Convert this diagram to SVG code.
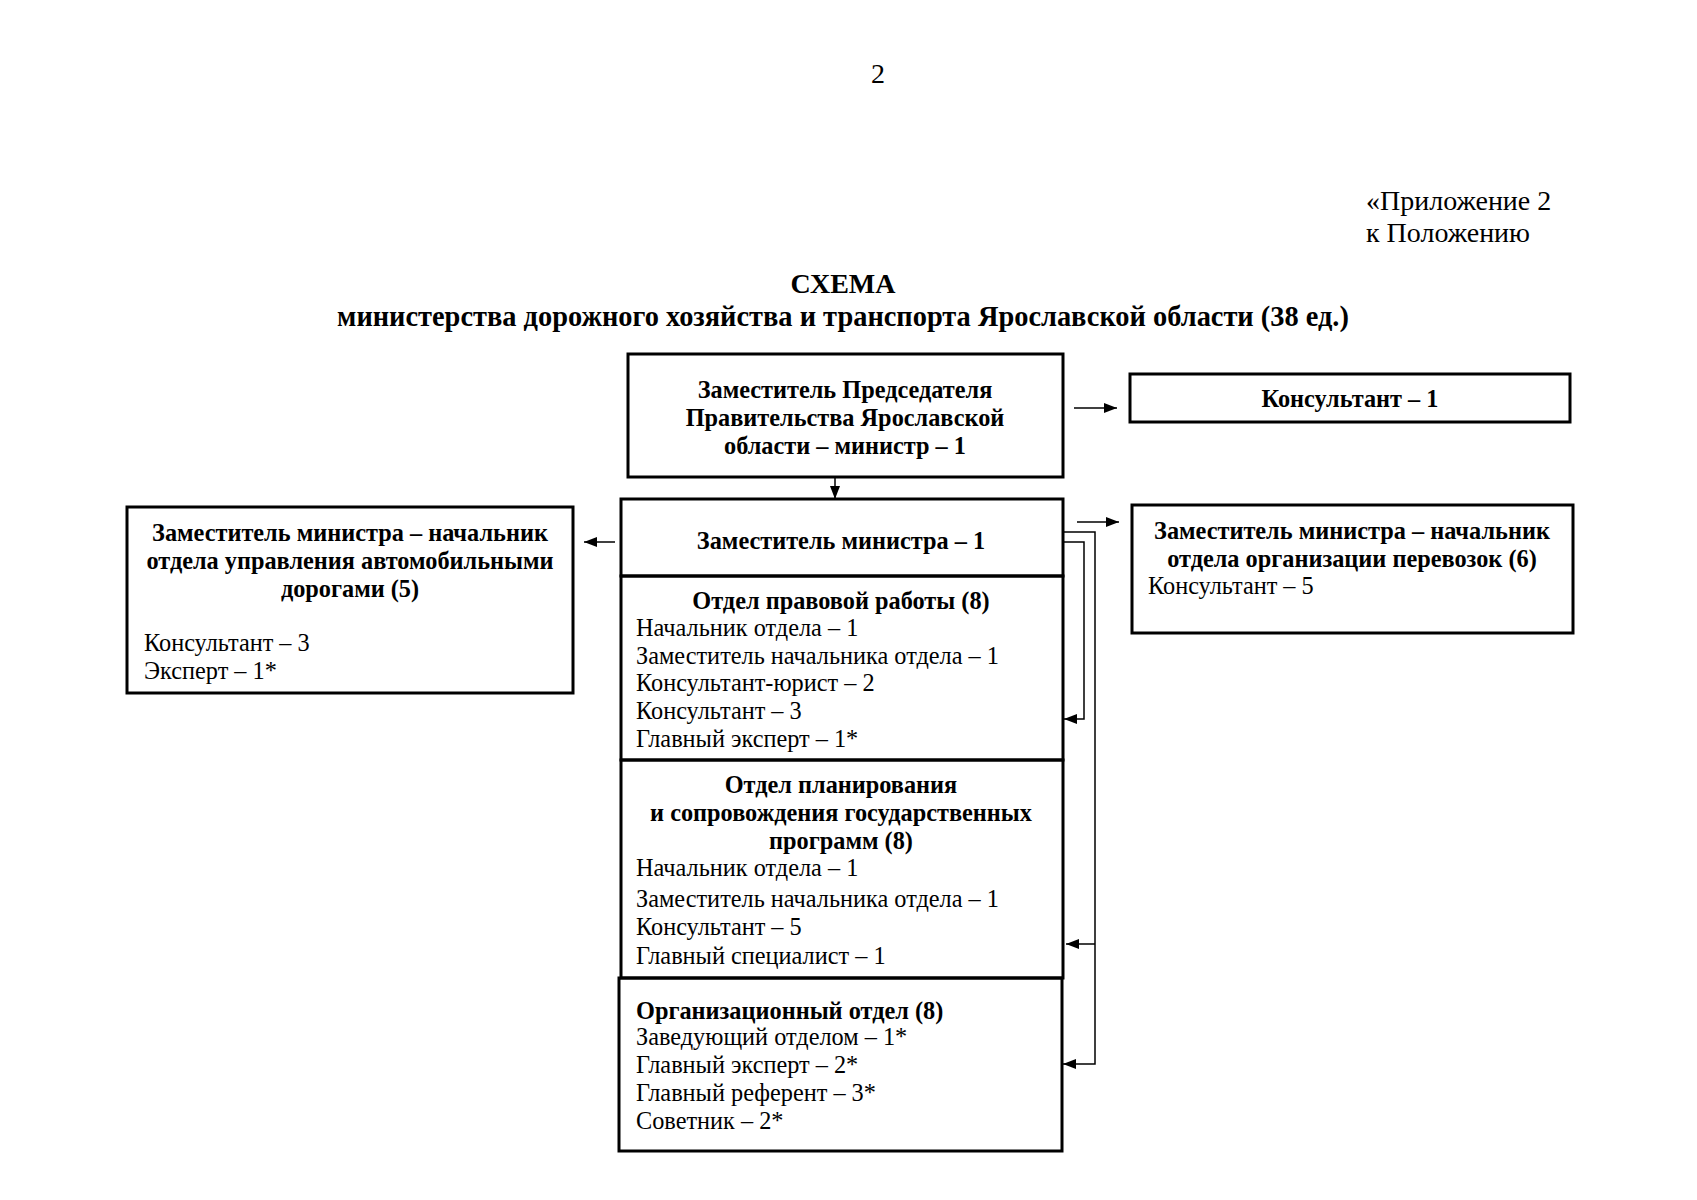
<svg xmlns="http://www.w3.org/2000/svg" width="1697" height="1200" viewBox="0 0 1697 1200">
<style>
text{font-family:"Liberation Serif","Times New Roman",serif;font-size:24.3px;fill:#000}
.b{font-weight:bold}
.c{text-anchor:middle}
.h{font-size:28px}
.box{fill:none;stroke:#000;stroke-width:3}
.con{fill:none;stroke:#000;stroke-width:1.5}
</style>
<defs>
<marker id="ah" markerUnits="userSpaceOnUse" markerWidth="14" markerHeight="12" refX="13" refY="5" orient="auto">
<path d="M0,0 L13,5 L0,10 Z" fill="#000"/>
</marker>
</defs>
<rect width="1697" height="1200" fill="#fff"/>
<g id="header">
<text x="878" y="83" class="c h">2</text>
<text x="1366" y="210" class="h">«Приложение 2</text>
<text x="1366" y="242" class="h">к Положению</text>
<text x="843" y="293" class="c b h">СХЕМА</text>
<text x="843" y="326" class="c b" style="font-size:28.4px">министерства дорожного хозяйства и транспорта Ярославской области (38 ед.)</text>
</g>
<g id="connectors">
<line class="con" x1="835" y1="477" x2="835" y2="499" marker-end="url(#ah)"/>
<line class="con" x1="1074" y1="408" x2="1117" y2="408" marker-end="url(#ah)"/>
<line class="con" x1="1077" y1="522" x2="1119" y2="522" marker-end="url(#ah)"/>
<line class="con" x1="615" y1="542" x2="584" y2="542" marker-end="url(#ah)"/>
<polyline class="con" points="1064,542 1084,542 1084,719 1064,719" marker-end="url(#ah)"/>
<polyline class="con" points="1064,532 1095,532 1095,1064 1063,1064" marker-end="url(#ah)"/>
<line class="con" x1="1095" y1="944" x2="1066" y2="944" marker-end="url(#ah)"/>
</g>
<g id="minister">
<rect class="box" x="628" y="354" width="435" height="123"/>
<text x="845" y="398" class="c b">Заместитель Председателя</text>
<text x="845" y="426" class="c b">Правительства Ярославской</text>
<text x="845" y="454" class="c b">области – министр – 1</text>
</g>
<g id="consultant1">
<rect class="box" x="1130" y="374" width="440" height="48"/>
<text x="1350" y="407" class="c b">Консультант – 1</text>
</g>
<g id="deputy">
<rect class="box" x="621" y="499" width="442" height="77"/>
<text x="841" y="549" class="c b">Заместитель министра – 1</text>
</g>
<g id="roads">
<rect class="box" x="127" y="507" width="446" height="186"/>
<text x="350" y="541" class="c b">Заместитель министра – начальник</text>
<text x="350" y="569" class="c b">отдела управления автомобильными</text>
<text x="350" y="597" class="c b">дорогами (5)</text>
<text x="144" y="651">Консультант – 3</text>
<text x="144" y="679">Эксперт – 1*</text>
</g>
<g id="transport">
<rect class="box" x="1132" y="505" width="441" height="128"/>
<text x="1352" y="539" class="c b">Заместитель министра – начальник</text>
<text x="1352" y="567" class="c b">отдела организации перевозок (6)</text>
<text x="1148" y="594">Консультант – 5</text>
</g>
<g id="legal">
<rect class="box" x="621" y="576" width="442" height="184"/>
<text x="841" y="609" class="c b">Отдел правовой работы (8)</text>
<text x="636" y="636">Начальник отдела – 1</text>
<text x="636" y="664">Заместитель начальника отдела – 1</text>
<text x="636" y="691">Консультант-юрист – 2</text>
<text x="636" y="719">Консультант – 3</text>
<text x="636" y="747">Главный эксперт – 1*</text>
</g>
<g id="planning">
<rect class="box" x="621" y="760" width="442" height="218"/>
<text x="841" y="793" class="c b">Отдел планирования</text>
<text x="841" y="821" class="c b">и сопровождения государственных</text>
<text x="841" y="849" class="c b">программ (8)</text>
<text x="636" y="876">Начальник отдела – 1</text>
<text x="636" y="907">Заместитель начальника отдела – 1</text>
<text x="636" y="935">Консультант – 5</text>
<text x="636" y="964">Главный специалист – 1</text>
</g>
<g id="org">
<rect class="box" x="619" y="978" width="443" height="173"/>
<text x="636" y="1019" class="b">Организационный отдел (8)</text>
<text x="636" y="1045">Заведующий отделом – 1*</text>
<text x="636" y="1073">Главный эксперт – 2*</text>
<text x="636" y="1101">Главный референт – 3*</text>
<text x="636" y="1129">Советник – 2*</text>
</g>
</svg>
